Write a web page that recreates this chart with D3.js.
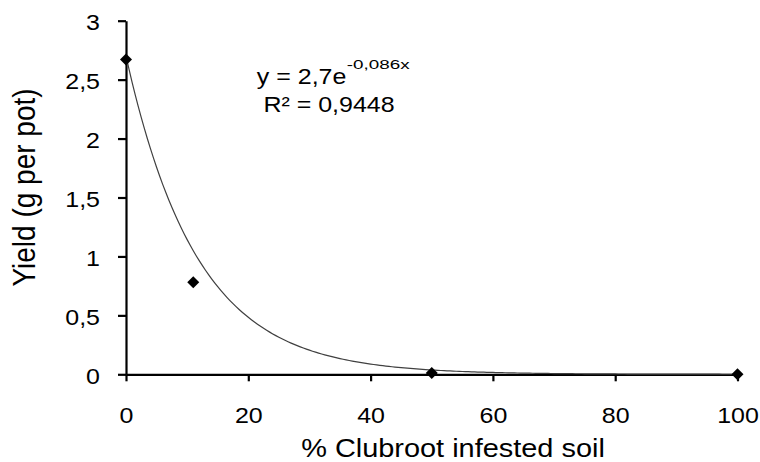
<!DOCTYPE html>
<html>
<head>
<meta charset="utf-8">
<script src="https://cdn.jsdelivr.net/npm/d3@7"></script>
<style>
  html, body { margin: 0; padding: 0; background: #fff; }
  svg { display: block; }
  text { font-family: "Liberation Sans", Arial, sans-serif; fill: #000; }
</style>
</head>
<body>
<svg id="chart" width="760" height="462"></svg>
<script>
// ---- data ----
const infestedPct = [0, 11, 50, 100];
const yieldValues = [2.67, 0.78, 0.01, 0.0];
const xTicks = [0, 20, 40, 60, 80, 100];
const yTicks = [0, 0.5, 1, 1.5, 2, 2.5, 3];
const trendA = 2.7;      // trendline shown on chart: y = 2,7 e^(-0,086x)
const trendB = -0.086;
const trendEq = "y = 2,7e";
const trendExp = "-0,086x";
const rSquared = "R² = 0,9448";
const xTitle = "% Clubroot infested soil";
const yTitle = "Yield (g per pot)";

// ---- layout ----
const svg = d3.select("#chart");
const x = d3.scaleLinear().domain([0, 100]).range([126, 737.5]);
const y = d3.scaleLinear().domain([0, 3]).range([374.3, 20.7]);
const fmt = d => String(d).replace(".", ",");
const SX = 1.1;          // horizontal stretch of the reference text
const tickFont = 22.7;

// y axis
const yAxis = svg.append("g").attr("transform", `translate(${x(0)},0)`)
  .call(d3.axisLeft(y).tickValues(yTicks).tickFormat(fmt).tickSize(8).tickSizeOuter(0).tickPadding(18));
// x axis
const xAxis = svg.append("g").attr("transform", `translate(0,${y(0)})`)
  .call(d3.axisBottom(x).tickValues(xTicks).tickFormat(fmt).tickSize(7).tickSizeOuter(0).tickPadding(25.6));

[yAxis, xAxis].forEach(g => {
  g.select(".domain").attr("stroke", "#000").attr("stroke-width", 2.2);
  g.selectAll(".tick line").attr("stroke", "#000").attr("stroke-width", 2.2);
  g.selectAll(".tick text").attr("font-size", tickFont)
    .attr("font-family", "Liberation Sans, Arial, sans-serif").attr("fill", "#000");
});
yAxis.selectAll(".tick text").each(function () {
  const t = d3.select(this);
  const tx = +t.attr("x");
  t.attr("x", 0).attr("dy", "0.4em").attr("transform", `translate(${tx},0) scale(${SX},1)`);
});
xAxis.selectAll(".tick text").attr("transform", `scale(${SX},1)`);

// trend line (from the displayed trendline equation)
const trendXs = d3.range(0, 100.5, 0.5);
const line = d3.line().x(d => x(d)).y(d => y(trendA * Math.exp(trendB * d)));
svg.append("path").datum(trendXs).attr("d", line)
  .attr("fill", "none").attr("stroke", "#404040").attr("stroke-width", 1.2);

// points (diamonds)
const diamond = d3.symbol().type(d3.symbolSquare).size(72);
svg.selectAll(".pt").data(infestedPct.map((v, i) => [v, yieldValues[i]])).enter()
  .append("path").attr("class", "pt")
  .attr("d", diamond)
  .attr("transform", d => `translate(${x(d[0])},${y(d[1])}) rotate(45)`)
  .attr("fill", "#000");

// equation
const eqFont = 22.7, supFont = 13, supSX = 1.45;
const eqMain = svg.append("text").attr("font-size", eqFont).text(trendEq);
const eqSup = svg.append("text").attr("font-size", supFont).text(trendExp);
const w1 = eqMain.node().getComputedTextLength() * SX;
const w2 = eqSup.node().getComputedTextLength() * supSX;
const x1 = 333 - (w1 + w2) / 2;
eqMain.attr("transform", `translate(${x1},84) scale(${SX},1)`);
eqSup.attr("transform", `translate(${x1 + w1 + 0.5},68.5) scale(${supSX},1)`);
svg.append("text").attr("text-anchor", "middle").attr("font-size", eqFont)
  .attr("transform", `translate(329,111.5) scale(${SX},1)`).text(rSquared);

// axis titles
svg.append("text").attr("text-anchor", "middle").attr("font-size", 26.3)
  .attr("transform", `translate(453,456.5) scale(${SX},1)`).text(xTitle);
svg.append("text").attr("text-anchor", "middle").attr("font-size", 28)
  .attr("transform", `translate(35,187.5) rotate(-90) scale(1,${SX})`).text(yTitle);
</script>
</body>
</html>
